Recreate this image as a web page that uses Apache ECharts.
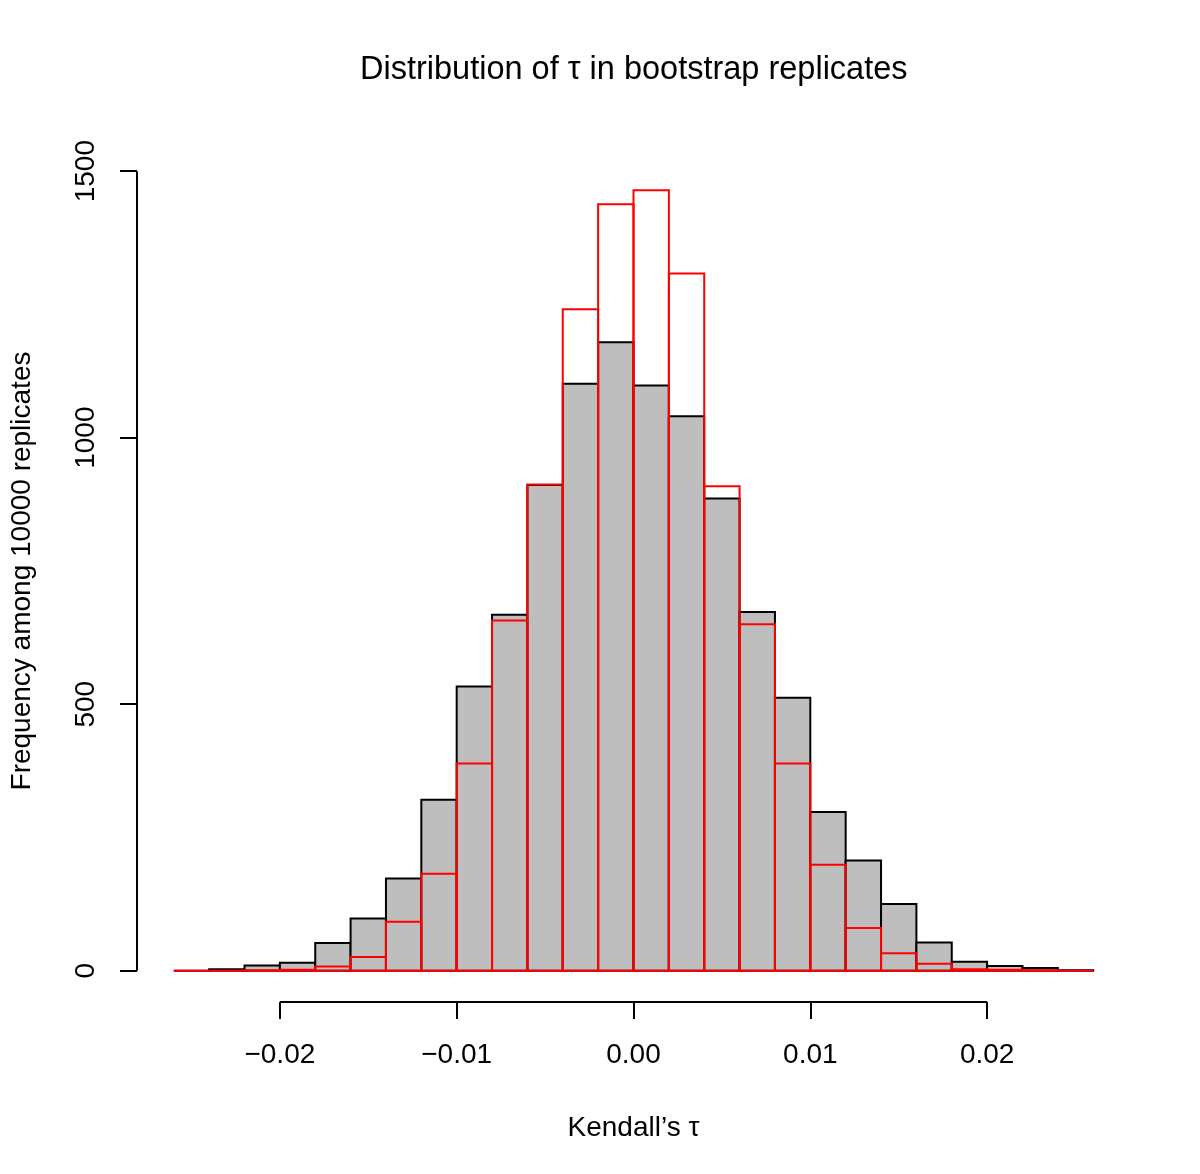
<!DOCTYPE html>
<html><head><meta charset="utf-8">
<script src="https://cdn.jsdelivr.net/npm/echarts@6/dist/echarts.min.js"></script>
<style>html,body{margin:0;padding:0;background:#fff}#c{width:1200px;height:1174px}</style>
</head><body><div id="c"></div><script>
const binEdges = [-0.026,-0.024,-0.022,-0.020,-0.018,-0.016,-0.014,-0.012,-0.010,-0.008,-0.006,-0.004,-0.002,0,
  0.002,0.004,0.006,0.008,0.010,0.012,0.014,0.016,0.018,0.020,0.022,0.024,0.026];
const grayCounts = [0,3,10,15,52,98,173,321,533,668,911,1101,1179,1098,1040,886,673,512,298,207,125,53,17,9,5,1];
const redCounts  = [0,0,1,2,8,26,92,182,389,657,912,1241,1438,1464,1308,909,650,389,199,80,33,13,3,2,1,0];
const xTicks = [-0.02,-0.01,0,0.01,0.02];
const yTicks = [0,500,1000,1500];
const xLim = [-0.02808, 0.02808];
const yLim = [-58.64, 1524.64];
const FONT = 'Liberation Sans, Arial, Helvetica, sans-serif';

function bins(counts){ return counts.map((c,i)=>[binEdges[i], binEdges[i+1], c]); }
function histRender(fill, stroke){
  return function(params, api){
    const lo = api.value(0), hi = api.value(1), v = api.value(2);
    const p1 = api.coord([lo, v]), p2 = api.coord([hi, 0]);
    return {type:'rect', shape:{x:p1[0], y:p1[1], width:p2[0]-p1[0], height:p2[1]-p1[1]},
      style:{fill:fill, stroke:stroke, lineWidth:2}};
  };
}
const chart = echarts.init(document.getElementById('c'), null, {renderer:'canvas'});
chart.setOption({
  animation:false,
  backgroundColor:'#fff',
  title:{text:'Distribution of \u03c4 in bootstrap replicates', left:360, top:54, padding:0,
    textStyle:{fontFamily:FONT, fontSize:32.5, fontWeight:'normal', color:'#000'}},
  grid:{left:137, right:70, top:158, bottom:172},
  xAxis:{type:'value', min:xLim[0], max:xLim[1],
    name:'Kendall\u2019s \u03c4', nameLocation:'middle', nameGap:112,
    nameTextStyle:{fontFamily:FONT, fontSize:28, color:'#000'},
    axisLine:{show:false, onZero:false}, splitLine:{show:false},
    axisTick:{show:true, customValues:xTicks, length:17, lineStyle:{color:'#000', width:2}},
    axisLabel:{show:true, customValues:xTicks, margin:39, fontFamily:FONT, fontSize:28, color:'#000',
      formatter:v=>(v<0?'\u2212':'')+Math.abs(v).toFixed(2)}},
  yAxis:{type:'value', min:yLim[0], max:yLim[1],
    name:'Frequency among 10000 replicates', nameLocation:'middle', nameGap:101, nameRotate:90,
    nameTextStyle:{fontFamily:FONT, fontSize:28, color:'#000', padding:[0,0,0,18]},
    axisLine:{show:false, onZero:false}, splitLine:{show:false},
    axisTick:{show:true, customValues:yTicks, length:17, lineStyle:{color:'#000', width:2}},
    axisLabel:{show:true, customValues:yTicks, rotate:90, margin:37, fontFamily:FONT, fontSize:28, color:'#000',
      formatter:v=>String(v)}},
  series:[
    {type:'custom', data:bins(grayCounts), renderItem:histRender('#bebebe','#000'), encode:{x:[0,1], y:2}, silent:true},
    {type:'custom', data:bins(redCounts), renderItem:histRender('none','#ff0000'), encode:{x:[0,1], y:2}, silent:true},
    {type:'custom', data:[[0]], silent:true, renderItem:function(params, api){
      const a = api.coord([xTicks[0], yLim[0]]), b = api.coord([xTicks[xTicks.length-1], yLim[0]]);
      const c = api.coord([xLim[0], yTicks[0]]), d = api.coord([xLim[0], yTicks[yTicks.length-1]]);
      return {type:'group', children:[
        {type:'line', shape:{x1:a[0], y1:a[1], x2:b[0], y2:b[1]}, style:{stroke:'#000', lineWidth:2}},
        {type:'line', shape:{x1:c[0], y1:c[1], x2:d[0], y2:d[1]}, style:{stroke:'#000', lineWidth:2}}
      ]};
    }}
  ]
});
</script></body></html>
